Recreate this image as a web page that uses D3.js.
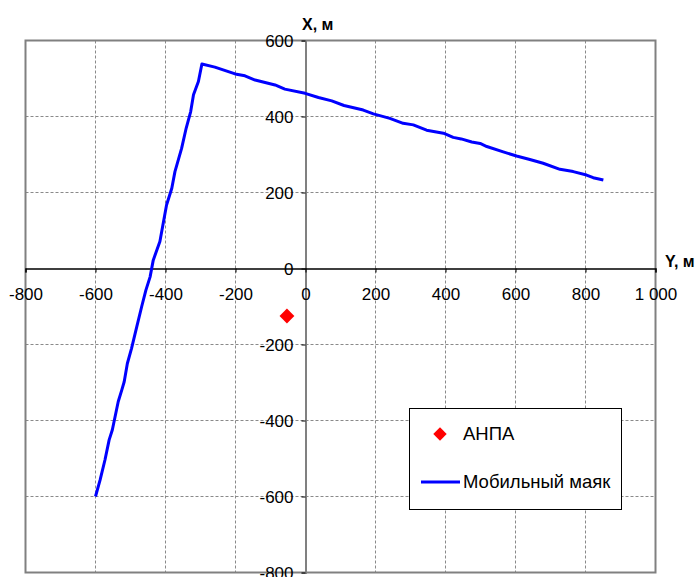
<!DOCTYPE html>
<html>
<head>
<meta charset="utf-8">
<script src="https://cdn.jsdelivr.net/npm/d3@7"></script>
<style>
  body { margin: 0; background: #fff; }
  text { font-family: "Liberation Sans", Arial, sans-serif; }
</style>
</head>
<body>
<div id="chart"></div>
<script>
// Tick values
const yTicks = [-800, -600, -400, -200, 0, 200, 400, 600, 800, 1000];
const xTicks = [-800, -600, -400, -200, 0, 200, 400, 600];

// Beacon track (horizontal Y, vertical X)
const beaconY = [-600, -587, -573, -561, -552, -542, -535, -525, -518, -509, -497, -482, -468, -456, -444, -435,
  -416, -397, -382, -373, -354, -341, -328, -320, -306, -296,
  -259, -201, -173, -144, -87, -59, -1, 37, 75, 110, 165, 194, 241, 279, 308, 346, 394, 422, 445, 475,
  499, 518, 565, 603, 641, 679, 727, 765, 803, 822, 851];
const beaconX = [-600, -557, -504, -451, -425, -381, -350, -320, -298, -250, -210, -153, -100, -57, -22, 22,
  71, 167, 211, 255, 316, 369, 413, 457, 492, 538,
  530, 512, 507, 496, 483, 472, 461, 450, 441, 429, 417, 407, 395, 382, 378, 364, 356, 345, 341, 333,
  329, 321, 307, 296, 287, 277, 261, 255, 246, 239, 233];

// AUV position
const anpaY = [-53];
const anpaX = [-125];

const width = 698;
const height = 577;

const svg = d3.select("#chart")
  .append("svg")
  .attr("width", width)
  .attr("height", height);

const x = d3.scaleLinear().domain([-800, 1000]).range([25.5, 655.5]);
const y = d3.scaleLinear().domain([-800, 600]).range([572.5, 40.5]);

// plain hyphen minus and a space as thousands separator, like the original
const fmt = d => (d < 0 ? "-" : "") + d3.format(",")(Math.abs(d)).replace(",", " ");

// Grid
svg.append("g")
  .selectAll("line")
  .data(yTicks.filter(d => d !== -800 && d !== 0 && d !== 1000))
  .enter().append("line")
  .attr("x1", d => x(d)).attr("x2", d => x(d))
  .attr("y1", y(600)).attr("y2", y(-800))
  .attr("stroke", "#8a8a8a")
  .attr("stroke-dasharray", "3,2");

svg.append("g")
  .selectAll("line")
  .data(xTicks.filter(d => d !== -800 && d !== 0 && d !== 600))
  .enter().append("line")
  .attr("x1", x(-800)).attr("x2", x(1000))
  .attr("y1", d => y(d)).attr("y2", d => y(d))
  .attr("stroke", "#8a8a8a")
  .attr("stroke-dasharray", "3,2");

// Plot border
svg.append("rect")
  .attr("x", x(-800)).attr("y", y(600))
  .attr("width", x(1000) - x(-800))
  .attr("height", y(-800) - y(600))
  .attr("fill", "none")
  .attr("stroke", "#808080")
  .attr("stroke-width", 2);

// Vertical axis (X) at Y = 0
const axisX = d3.axisLeft(y)
  .tickValues(xTicks)
  .tickFormat(fmt)
  .tickSize(4)
  .tickPadding(8);

const gx = svg.append("g")
  .attr("transform", `translate(${x(0)},0)`)
  .call(axisX);
gx.select(".domain").attr("stroke", "#808080").attr("stroke-width", 2);
gx.selectAll("line").attr("stroke", "#000");
gx.selectAll("text").attr("font-size", 17).attr("fill", "#000").attr("dy", "0.36em");

// Horizontal axis (Y) at X = 0
const axisY = d3.axisBottom(x)
  .tickValues(yTicks)
  .tickFormat(fmt)
  .tickSize(4)
  .tickPadding(15);

const gy = svg.append("g")
  .attr("transform", `translate(0,${y(0)})`)
  .call(axisY);
gy.select(".domain").attr("stroke", "#000").attr("stroke-width", 1.3);
gy.selectAll("line").attr("stroke", "#000");
gy.selectAll("text").attr("font-size", 17).attr("fill", "#000");

// Axis titles
svg.append("text")
  .attr("x", 302).attr("y", 30)
  .attr("font-size", 16).attr("font-weight", "bold")
  .text("X, м");

svg.append("text")
  .attr("x", 665).attr("y", 267)
  .attr("font-size", 16).attr("font-weight", "bold")
  .text("Y, м");

// Beacon line
const track = beaconY.map((d, i) => [d, beaconX[i]]);
svg.append("path")
  .datum(track)
  .attr("fill", "none")
  .attr("stroke", "#0000ff")
  .attr("stroke-width", 3)
  .attr("stroke-linejoin", "round")
  .attr("d", d3.line().x(d => x(d[0])).y(d => y(d[1])));

// AUV marker
const diamond = d3.symbol().type(d3.symbolSquare).size(110);
svg.append("g")
  .selectAll("path")
  .data(anpaY.map((d, i) => [d, anpaX[i]]))
  .enter().append("path")
  .attr("d", diamond)
  .attr("fill", "#ff0000")
  .attr("transform", d => `translate(${x(d[0])},${y(d[1])}) rotate(45)`);

// Legend
const legend = svg.append("g");
legend.append("rect")
  .attr("x", 409.5).attr("y", 408.5)
  .attr("width", 212).attr("height", 101)
  .attr("fill", "#fff")
  .attr("stroke", "#000");

legend.append("path")
  .attr("d", d3.symbol().type(d3.symbolSquare).size(90))
  .attr("fill", "#ff0000")
  .attr("transform", "translate(440,434) rotate(45)");
legend.append("text")
  .attr("x", 463).attr("y", 440)
  .attr("font-size", 18.5)
  .text("АНПА");

legend.append("line")
  .attr("x1", 421).attr("x2", 460)
  .attr("y1", 482).attr("y2", 482)
  .attr("stroke", "#0000ff")
  .attr("stroke-width", 3);
legend.append("text")
  .attr("x", 463).attr("y", 488)
  .attr("font-size", 18.5)
  .text("Мобильный маяк");
</script>
</body>
</html>
